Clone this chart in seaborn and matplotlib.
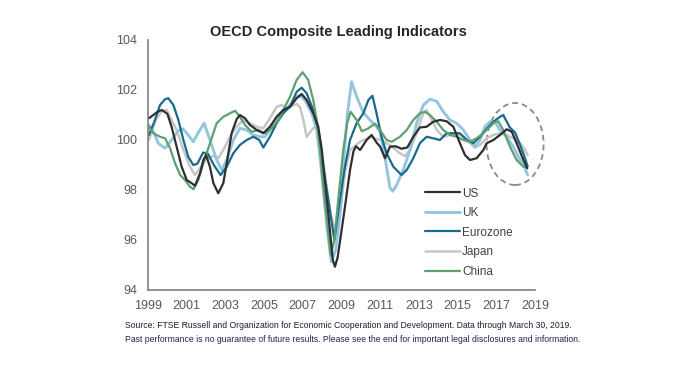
import numpy as np
import pandas as pd
import seaborn as sns
import matplotlib
matplotlib.use("Agg")
import matplotlib.pyplot as plt
from matplotlib.patches import Ellipse

# ---------------- data ----------------
title = "OECD Composite Leading Indicators"
series_names = ["US", "UK", "Eurozone", "Japan", "China"]
x_ticks = [1999, 2001, 2003, 2005, 2007, 2009, 2011, 2013, 2015, 2017, 2019]
y_ticks = [94, 96, 98, 100, 102, 104]

us_years = [1999.05, 1999.5, 1999.71, 2000.0, 2000.22, 2000.48, 2000.74, 2001.0, 2001.26, 2001.43,
            2001.69, 2001.86, 2002.0, 2002.2, 2002.38, 2002.63, 2002.89, 2003.07, 2003.32, 2003.58,
            2003.75, 2004.01, 2004.27, 2004.62, 2004.96, 2005.3, 2005.65, 2005.99, 2006.34, 2006.68,
            2006.94, 2007.2, 2007.54, 2007.8, 2007.98, 2008.15, 2008.35, 2008.55, 2008.66, 2008.8,
            2008.95, 2009.18, 2009.44, 2009.62, 2009.75, 2009.96, 2010.3, 2010.56, 2010.81, 2011.0,
            2011.25, 2011.5, 2011.8, 2012.1, 2012.4, 2012.71, 2013.05, 2013.4, 2013.74, 2014.09,
            2014.43, 2014.78, 2015.12, 2015.38, 2015.64, 2015.98, 2016.33, 2016.5, 2016.85, 2017.19,
            2017.54, 2017.8, 2018.05, 2018.4, 2018.6]
us_values = [100.87, 101.13, 101.2, 101.05, 100.53, 99.73, 98.93, 98.4, 98.27, 98.17,
             98.67, 99.2, 99.4, 98.93, 98.27, 97.87, 98.27, 99.07, 100.27, 100.83,
             101.0, 100.87, 100.6, 100.4, 100.27, 100.53, 100.93, 101.2, 101.33, 101.67,
             101.84, 101.6, 101.07, 100.53, 99.6, 98.27, 96.8, 95.2, 94.93, 95.3,
             96.1, 97.33, 98.8, 99.55, 99.75, 99.6, 100.0, 100.2, 99.9, 99.73,
             99.27, 99.73, 99.75, 99.65, 99.7, 100.13, 100.5, 100.53, 100.73, 100.8,
             100.75, 100.53, 99.87, 99.4, 99.2, 99.27, 99.6, 99.87, 100.0, 100.2,
             100.43, 100.33, 99.87, 99.2, 98.87]

uk_years = [1999.05, 1999.28, 1999.53, 1999.88, 2000.22, 2000.55, 2000.8, 2001.08, 2001.34, 2001.6,
            2001.9, 2002.2, 2002.55, 2002.81, 2003.07, 2003.41, 2003.75, 2004.1, 2004.44, 2004.79,
            2005.05, 2005.3, 2005.65, 2005.99, 2006.34, 2006.68, 2006.86, 2007.11, 2007.46, 2007.72,
            2007.89, 2008.06, 2008.25, 2008.47, 2008.7, 2008.95, 2009.15, 2009.3, 2009.52, 2009.8,
            2010.13, 2010.47, 2010.8, 2011.0, 2011.25, 2011.5, 2011.65, 2011.85, 2012.19, 2012.54,
            2012.88, 2013.23, 2013.57, 2013.92, 2014.26, 2014.61, 2014.95, 2015.3, 2015.64, 2015.9,
            2016.16, 2016.41, 2016.67, 2016.93, 2017.19, 2017.54, 2017.88, 2018.23, 2018.45, 2018.62]
uk_values = [100.6, 100.33, 99.87, 99.67, 100.0, 100.35, 100.45, 100.2, 99.93, 100.3,
             100.67, 100.0, 99.2, 98.8, 99.2, 100.0, 100.47, 100.4, 100.2, 100.13,
             100.13, 100.4, 100.8, 101.13, 101.4, 101.73, 101.77, 101.6, 101.07, 100.4,
             99.33, 98.0, 96.5, 95.13, 95.6, 97.2, 99.5, 101.0, 102.33, 101.7,
             101.1, 100.8, 100.55, 100.3, 99.3, 98.1, 97.95, 98.2, 98.8, 99.6,
             100.67, 101.4, 101.63, 101.55, 101.13, 100.8, 100.67, 100.4, 100.0, 99.73,
             100.0, 100.53, 100.73, 100.73, 100.4, 100.13, 99.73, 99.2, 98.93, 98.6]

ez_years = [1999.05, 1999.36, 1999.62, 1999.88, 2000.05, 2000.31, 2000.57, 2000.83, 2001.08, 2001.34,
            2001.55, 2001.85, 2002.1, 2002.4, 2002.75, 2003.07, 2003.41, 2003.75, 2004.1, 2004.44,
            2004.75, 2004.96, 2005.3, 2005.65, 2005.99, 2006.34, 2006.68, 2006.94, 2007.2, 2007.54,
            2007.8, 2008.0, 2008.32, 2008.63, 2008.92, 2009.15, 2009.44, 2009.78, 2010.13, 2010.39,
            2010.6, 2010.81, 2011.07, 2011.33, 2011.68, 2012.1, 2012.37, 2012.71, 2013.05, 2013.4,
            2013.74, 2014.09, 2014.43, 2014.78, 2015.12, 2015.47, 2015.81, 2016.16, 2016.5, 2016.85,
            2017.19, 2017.36, 2017.7, 2017.97, 2018.23, 2018.45, 2018.62]
ez_values = [100.2, 100.8, 101.4, 101.63, 101.67, 101.4, 100.8, 100.0, 99.33, 99.0,
             99.05, 99.5, 99.45, 99.0, 98.6, 98.93, 99.47, 99.8, 100.0, 100.13,
             100.0, 99.7, 100.13, 100.67, 101.07, 101.33, 101.93, 102.09, 101.87, 101.2,
             100.4, 99.2, 97.6, 96.0, 97.6, 98.8, 100.0, 100.67, 101.07, 101.6,
             101.77, 101.07, 100.13, 99.47, 98.93, 98.6, 98.8, 99.27, 99.87, 100.13,
             100.07, 100.0, 100.27, 100.27, 100.27, 100.0, 99.87, 100.13, 100.45, 100.73,
             100.93, 101.0, 100.5, 100.3, 99.8, 99.35, 98.95]

jp_years = [1999.05, 1999.4, 1999.7, 1999.96, 2000.22, 2000.48, 2000.83, 2001.17, 2001.43, 2001.69,
            2002.03, 2002.38, 2002.63, 2002.89, 2003.24, 2003.58, 2003.93, 2004.27, 2004.62, 2004.96,
            2005.3, 2005.65, 2005.91, 2006.17, 2006.42, 2006.68, 2006.86, 2007.03, 2007.2, 2007.46,
            2007.72, 2007.95, 2008.2, 2008.45, 2008.7, 2008.95, 2009.2, 2009.44, 2009.96, 2010.47,
            2010.99, 2011.5, 2012.02, 2012.28, 2012.54, 2012.88, 2013.23, 2013.4, 2013.66, 2013.92,
            2014.26, 2014.61, 2014.95, 2015.3, 2015.64, 2015.9, 2016.16, 2016.5, 2016.85, 2017.19,
            2017.54, 2017.88, 2018.23, 2018.45, 2018.62]
jp_values = [100.0, 100.8, 101.15, 101.2, 100.8, 100.4, 99.6, 98.93, 98.6, 98.87,
             99.27, 99.36, 99.27, 99.6, 100.13, 100.53, 100.8, 100.67, 100.53, 100.47,
             100.87, 101.33, 101.4, 101.27, 101.35, 101.45, 101.3, 100.8, 100.13, 100.4,
             100.6, 99.8, 98.3, 97.0, 96.3, 97.3, 98.8, 99.6, 99.93, 100.13,
             100.0, 99.8, 99.47, 99.36, 99.6, 100.27, 101.07, 101.2, 100.8, 100.4,
             100.13, 100.2, 100.27, 100.13, 99.87, 99.7, 99.8, 100.07, 100.2, 100.27,
             100.2, 100.07, 99.87, 99.65, 99.4]

cn_years = [1999.05, 1999.28, 1999.62, 1999.88, 2000.14, 2000.4, 2000.66, 2000.91, 2001.17, 2001.35,
            2001.6, 2001.86, 2002.2, 2002.55, 2002.89, 2003.24, 2003.5, 2003.75, 2004.01, 2004.36,
            2004.7, 2005.05, 2005.4, 2005.74, 2005.99, 2006.34, 2006.68, 2006.99, 2007.28, 2007.54,
            2007.72, 2007.89, 2008.05, 2008.23, 2008.44, 2008.63, 2008.83, 2009.09, 2009.3, 2009.47,
            2009.78, 2010.05, 2010.35, 2010.73, 2010.99, 2011.33, 2011.6, 2012.02, 2012.37, 2012.71,
            2013.05, 2013.31, 2013.57, 2013.92, 2014.26, 2014.61, 2014.95, 2015.3, 2015.64, 2015.98,
            2016.33, 2016.67, 2016.9, 2017.1, 2017.36, 2017.71, 2018.05, 2018.4, 2018.6]
cn_values = [100.53, 100.27, 100.13, 100.07, 99.67, 99.07, 98.6, 98.4, 98.13, 98.03,
             98.4, 99.07, 99.87, 100.67, 100.93, 101.07, 101.17, 100.93, 100.6, 100.33,
             100.4, 100.27, 100.47, 100.8, 101.2, 101.73, 102.4, 102.71, 102.4, 101.6,
             100.8, 99.6, 98.2, 96.93, 95.4, 96.0, 97.6, 99.6, 100.7, 101.13,
             100.8, 100.35, 100.45, 100.65, 100.4, 100.0, 99.93, 100.13, 100.4, 100.8,
             101.07, 101.13, 101.0, 100.73, 100.4, 100.2, 100.13, 100.0, 99.93, 100.07,
             100.27, 100.53, 100.7, 100.75, 100.4, 99.73, 99.2, 98.93, 98.93]

highlight_center = (2017.97, 99.84)
highlight_size = (2.95, 3.28)

source_line1 = ("Source: FTSE Russell and Organization for Economic Cooperation and Development. "
                "Data through March 30, 2019.")
source_line2 = ("Past performance is no guarantee of future results. Please see the end for "
                "important legal disclosures and information.")

# ---------------- styling ----------------
colors = {"US": "#2f2f2f", "UK": "#93c6de", "Eurozone": "#186a8c",
          "Japan": "#c6c6c6", "China": "#5f9f70"}
widths = {"US": 1.6, "UK": 2.1, "Eurozone": 1.6, "Japan": 1.8, "China": 1.6}

sns.set_theme(style="white")
plt.rcParams["font.family"] = ["Liberation Sans", "DejaVu Sans"]

frames = []
for name, xs, ys in zip(series_names,
                        [us_years, uk_years, ez_years, jp_years, cn_years],
                        [us_values, uk_values, ez_values, jp_values, cn_values]):
    frames.append(pd.DataFrame({"year": xs, "value": ys, "country": name}))
df = pd.concat(frames, ignore_index=True)

fig = plt.figure(figsize=(6.98, 3.69), dpi=100)
ax = fig.add_axes([148 / 698, 1 - 290 / 369, (535 - 148) / 698, (290 - 40) / 369])

draw_order = ["Japan", "UK", "Eurozone", "China", "US"]
for name in draw_order:
    sub = df[df["country"] == name]
    sns.lineplot(data=sub, x="year", y="value", ax=ax, color=colors[name],
                 linewidth=widths[name], estimator=None, sort=False, label=name,
                 solid_capstyle="round", solid_joinstyle="round")

ax.add_patch(Ellipse(highlight_center, highlight_size[0], highlight_size[1], fill=False,
                     edgecolor="#8a8a8a", linestyle=(0, (3.2, 2.2)), linewidth=1.3,
                     clip_on=False))

ax.set_xlim(1999, 2019)
ax.set_ylim(94, 104)
ax.set_xticks(x_ticks)
ax.set_yticks(y_ticks)
ax.set_xlabel("")
ax.set_ylabel("")
ax.tick_params(axis="both", length=0, labelsize=9, labelcolor="#595959")
ax.tick_params(axis="y", pad=8)
ax.tick_params(axis="x", pad=7)
for s in ["top", "right"]:
    ax.spines[s].set_visible(False)
for s in ["left", "bottom"]:
    ax.spines[s].set_color("#7f7f7f")
    ax.spines[s].set_linewidth(1.2)
ax.grid(False)

handles, labels = ax.get_legend_handles_labels()
hmap = dict(zip(labels, handles))
leg = ax.legend([hmap[n] for n in series_names], series_names, loc="upper left",
                bbox_to_anchor=(425 / 698, 1 - 187.5 / 369), bbox_transform=fig.transFigure,
                frameon=False, fontsize=8.5, handlelength=3.0, handletextpad=0.15,
                labelspacing=0.64, borderpad=0, borderaxespad=0)
for t in leg.get_texts():
    t.set_color("#404040")

fig.text(338 / 698, 1 - 32 / 369, title, ha="center", va="center", fontsize=10.5,
         fontweight="bold", color="#262626")
fig.text(125 / 698, 1 - 326 / 369, source_line1, ha="left", va="center", fontsize=6.2,
         color="#1c1c38")
fig.text(125 / 698, 1 - 339 / 369, source_line2, ha="left", va="center", fontsize=6.2,
         color="#2a1f45")

fig.savefig("out.png", dpi=100, facecolor="white")
